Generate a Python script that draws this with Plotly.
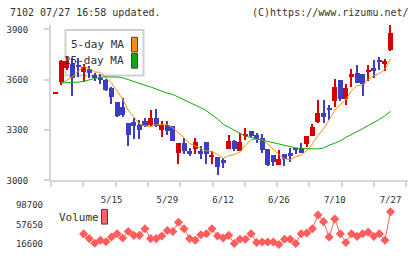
import plotly.graph_objects as go

# ---------------- data ----------------
opens = [3522, 3590, 3672, 3694, 3690, 3649, 3664, 3631, 3614, 3600, 3551, 3473, 3440, 3343, 3349,
         3333, 3357, 3335, 3372, 3304, 3333, 3329, 3164, 3226, 3181, 3193, 3181, 3232, 3146, 3142,
         3123, 3193, 3240, 3177, 3269, 3300, 3271, 3255, 3191, 3154, 3094, 3162, 3168, 3197, 3197,
         3222, 3265, 3349, 3407, 3436, 3479, 3600, 3489, 3620, 3645, 3635, 3649, 3670, 3719, 3697, 3781]
highs = [3522, 3720, 3740, 3730, 3735, 3697, 3684, 3645, 3635, 3605, 3557, 3473, 3495, 3343, 3372,
         3362, 3372, 3421, 3426, 3356, 3356, 3329, 3226, 3255, 3197, 3255, 3207, 3232, 3181, 3142,
         3138, 3271, 3245, 3284, 3314, 3300, 3284, 3279, 3191, 3154, 3187, 3162, 3197, 3197, 3226,
         3265, 3339, 3483, 3483, 3450, 3606, 3600, 3580, 3664, 3688, 3635, 3688, 3723, 3738, 3729, 3927]
lows = [3522, 3573, 3660, 3508, 3617, 3592, 3616, 3596, 3577, 3535, 3456, 3380, 3380, 3210, 3249,
        3249, 3323, 3330, 3324, 3259, 3274, 3236, 3103, 3158, 3148, 3158, 3129, 3099, 3099, 3037,
        3076, 3193, 3180, 3177, 3245, 3262, 3226, 3168, 3090, 3090, 3094, 3090, 3113, 3158, 3168,
        3200, 3265, 3343, 3343, 3362, 3440, 3475, 3450, 3557, 3586, 3508, 3596, 3616, 3658, 3655, 3775]
closes = [3522, 3713, 3717, 3614, 3683, 3678, 3641, 3612, 3606, 3540, 3503, 3386, 3392, 3275, 3327,
          3304, 3329, 3372, 3327, 3333, 3298, 3236, 3226, 3181, 3158, 3232, 3158, 3158, 3150, 3084,
          3105, 3236, 3193, 3232, 3279, 3269, 3251, 3187, 3094, 3113, 3129, 3129, 3148, 3187, 3168,
          3265, 3319, 3407, 3378, 3427, 3557, 3489, 3553, 3639, 3586, 3577, 3658, 3655, 3709, 3717, 3879]
ma5 = [None, 3577, 3600, 3618, 3650, 3681, 3667, 3646, 3644, 3615, 3580, 3529, 3485, 3419, 3377,
       3337, 3325, 3321, 3332, 3333, 3332, 3313, 3284, 3255, 3220, 3207, 3191, 3177, 3171, 3156,
       3131, 3147, 3154, 3170, 3209, 3242, 3245, 3244, 3216, 3183, 3155, 3130, 3123, 3141, 3152,
       3179, 3217, 3269, 3307, 3359, 3418, 3452, 3481, 3533, 3565, 3569, 3603, 3623, 3637, 3663, 3724]
ma25 = [None, 3581, 3582, 3584, 3586, 3591, 3599, 3606, 3615, 3617, 3617, 3616, 3612, 3600, 3588,
        3575, 3567, 3557, 3544, 3532, 3520, 3512, 3497, 3481, 3466, 3449, 3433, 3416, 3392, 3366,
        3335, 3318, 3302, 3281, 3264, 3256, 3248, 3240, 3231, 3222, 3215, 3207, 3201, 3194, 3190,
        3188, 3187, 3188, 3193, 3210, 3222, 3236, 3257, 3273, 3290, 3308, 3327, 3344, 3364, 3385, 3411]
volumes = [None, None, None, None, None,
           37200, 27100, 17200, 23500, 20400, 30500, 37650, 28400, 42500, 34100,
           34100, 48200, 27100, 27100, 32600, 44600, 42500, 62100, 48200, 27100,
           23500, 35500, 37650, 48200, 32600, 28400, 34100, 16600, 25650, 25650,
           37650, 18700, 20000, 20000, 20000, 14500, 25650, 25650, 16600, 37650,
           38900, 48200, 77650, 63500, 30500, 69200, 37650, 18700, 37650, 32000,
           37650, 41000, 32000, 37650, 23500, 84600]
date_tick_index = [10, 20, 30, 40, 50, 60]
date_tick_labels = ["5/15", "5/29", "6/12", "6/26", "7/10", "7/27"]
price_ticks = [3000, 3300, 3600, 3900]
volume_ticks = [16600, 57650, 98700]

# ---------------- layout geometry (pixels) ----------------
W, H = 420, 259
ML, MR = 51, 12
PLOT_W = W - ML - MR
BAR_PX = 5.58          # pixels per trading day
FIRST_PX = 55.72       # pixel centre of bar 0
x_lo = (ML - FIRST_PX) / BAR_PX
x_hi = (W - MR - FIRST_PX) / BAR_PX

MAIN_TOP, MAIN_BOT = 25, 184
VOL_TOP, VOL_BOT = 200, 255
main_range = [3000, 3929]
vol_range = [2500, 118300]

def py(Y):
    return 1 - Y / H

def pxp(X):
    return (X - ML) / PLOT_W

RED = "#d60000"
BLUE = "#3d3dc0"
ORANGE = "#f0900f"
GREEN = "#13a813"
VOLC = "#ff5c5c"
AXC = "#d6d6d6"
TXT = "#333333"
FONT = "DejaVu Sans Mono"

idx = list(range(len(closes)))
colors = [RED if c >= o else BLUE for o, c in zip(opens, closes)]
body_base = [min(o, c) for o, c in zip(opens, closes)]
body_h = [max(abs(c - o), 6) for o, c in zip(opens, closes)]
wick_h = [max(h - l, 6) for h, l in zip(highs, lows)]

fig = go.Figure()
fig.add_trace(go.Bar(x=idx, y=wick_h, base=lows, width=0.19,
                     marker=dict(color=colors, line=dict(width=0)),
                     xaxis="x", yaxis="y", hoverinfo="skip"))
fig.add_trace(go.Bar(x=idx, y=body_h, base=body_base, width=0.9,
                     marker=dict(color=colors, line=dict(width=0)),
                     xaxis="x", yaxis="y", hoverinfo="skip"))
fig.add_trace(go.Scatter(x=idx, y=ma5, mode="lines", line=dict(color=ORANGE, width=1),
                         xaxis="x", yaxis="y"))
fig.add_trace(go.Scatter(x=idx, y=ma25, mode="lines", line=dict(color=GREEN, width=1),
                         xaxis="x", yaxis="y"))
fig.add_trace(go.Scatter(x=idx, y=volumes, mode="lines+markers",
                         line=dict(color=VOLC, width=1),
                         marker=dict(symbol="diamond", size=7, color=VOLC, line=dict(width=0)),
                         xaxis="x2", yaxis="y2"))

# tick marks along the bottom axis every ~32.3 px
tick_step = 32.3 / BAR_PX
mark_vals = [x_lo + k * tick_step for k in range(12)]

fig.update_layout(
    width=W, height=H, margin=dict(l=ML, r=MR, t=0, b=0),
    paper_bgcolor="white", plot_bgcolor="white", showlegend=False,
    barmode="overlay", bargap=0,
    font=dict(family=FONT, size=10, color=TXT),
    xaxis=dict(domain=[0, 1], range=[x_lo, x_hi], anchor="y",
               showline=True, linecolor=AXC, linewidth=2, showgrid=False, zeroline=False,
               ticks="outside", ticklen=5, tickwidth=1.5, tickcolor=AXC,
               tickvals=mark_vals, ticktext=[""] * len(mark_vals)),
    xaxis3=dict(range=[x_lo, x_hi], anchor="y", overlaying="x", side="bottom",
                showline=False, showgrid=False, zeroline=False, ticks="",
                tickvals=date_tick_index, ticktext=date_tick_labels,
                tickfont=dict(family=FONT, size=9, color=TXT), ticklabelstandoff=13),
    yaxis=dict(domain=[py(MAIN_BOT), py(MAIN_TOP)], range=main_range, anchor="x",
               showline=True, linecolor=AXC, linewidth=2, showgrid=False, zeroline=False,
               ticks="outside", ticklen=5, tickwidth=1.5, tickcolor=AXC,
               tickvals=price_ticks, tickfont=dict(family=FONT, size=9, color=TXT),
               ticklabelstandoff=14),
    xaxis2=dict(domain=[0, 1], range=[x_lo, x_hi], anchor="y2", visible=False),
    yaxis2=dict(domain=[py(VOL_BOT), py(VOL_TOP)], range=vol_range, anchor="x2",
                showline=False, showgrid=False, zeroline=False, ticks="",
                tickvals=volume_ticks, tickformat="d",
                tickfont=dict(family=FONT, size=9, color=TXT), ticklabelstandoff=7),
)
# dummy trace so xaxis3 is rendered
fig.add_trace(go.Scatter(x=[x_lo], y=[None], xaxis="x3", yaxis="y", showlegend=False,
                         hoverinfo="skip"))

shapes = []
annotations = []
# header
annotations.append(dict(x=pxp(8), y=py(13), xref="paper", yref="paper", xanchor="left",
                        yanchor="middle", text="7102 07/27 16:58 updated.", showarrow=False,
                        font=dict(family=FONT, size=10, color=TXT)))
annotations.append(dict(x=pxp(411), y=py(13), xref="paper", yref="paper", xanchor="right",
                        yanchor="middle", text="(C)https://www.rizumu.net/", showarrow=False,
                        font=dict(family=FONT, size=10, color=TXT)))
# price legend box
shapes.append(dict(type="rect", xref="paper", yref="paper", x0=pxp(65.5), x1=pxp(143.5),
                   y0=py(77), y1=py(30.5), line=dict(color="#d0d0d0", width=2),
                   fillcolor="rgba(0,0,0,0)", layer="below"))
for label, col, yc in [("5-day MA", ORANGE, 45.5), ("25-day MA", GREEN, 62)]:
    annotations.append(dict(x=pxp(126), y=py(yc), xref="paper", yref="paper", xanchor="right",
                            yanchor="middle", text=label, showarrow=False,
                            font=dict(family=FONT, size=11, color=TXT)))
    shapes.append(dict(type="rect", xref="paper", yref="paper", x0=pxp(131.5), x1=pxp(137.5),
                       y0=py(yc + 7.5), y1=py(yc - 7.5), line=dict(color="#444444", width=1),
                       fillcolor=col))
# volume legend
annotations.append(dict(x=pxp(57), y=py(221.5), xref="paper", yref="paper", xanchor="left",
                        yanchor="middle", text="Volume", showarrow=False,
                        font=dict(family=FONT, size=11, color=TXT)))
shapes.append(dict(type="rect", xref="paper", yref="paper", x0=pxp(101.5), x1=pxp(107.5),
                   y0=py(228.5), y1=py(213.5), line=dict(color="#444444", width=1),
                   fillcolor="#ff6464"))

fig.update_layout(shapes=shapes, annotations=annotations)
fig.write_html("out.html")
